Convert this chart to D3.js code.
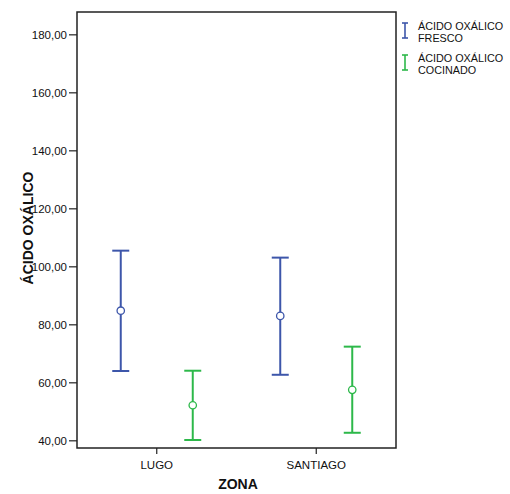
<!DOCTYPE html>
<html><head><meta charset="utf-8">
<script src="https://cdn.jsdelivr.net/npm/d3@7"></script>
<style>body{margin:0;background:#fff}svg{display:block}text{font-family:Arial,"Liberation Sans",sans-serif}</style>
</head><body>
<svg id="c" width="510" height="494"></svg>
<script>
const zones = ["LUGO", "SANTIAGO"];
const seriesNames = ["ÁCIDO OXÁLICO FRESCO", "ÁCIDO OXÁLICO COCINADO"];
const freshMean = [84.7, 82.9];
const freshLow = [63.9, 62.6];
const freshHigh = [105.4, 103.0];
const cookedMean = [52.1, 57.4];
const cookedLow = [40.1, 42.6];
const cookedHigh = [64.0, 72.3];
const yTicks = [40, 60, 80, 100, 120, 140, 160, 180];
const colors = ["#3D56AA", "#2DB84A"];

const series = [
  {name: seriesNames[0], mean: freshMean, low: freshLow, high: freshHigh, color: colors[0]},
  {name: seriesNames[1], mean: cookedMean, low: cookedLow, high: cookedHigh, color: colors[1]}
];

const svg = d3.select("#c");
const L = 77, R = 396, T = 12, B = 448;
const y = d3.scaleLinear().domain([37.35, 187.7]).range([B, T]);
const x = d3.scaleBand().domain(zones).range([L, R]).paddingInner(0).paddingOuter(0);
const off = d3.scalePoint().domain([0, 1]).range([-36, 36]);

// frame
svg.append("rect").attr("x", L).attr("y", T).attr("width", R - L).attr("height", B - T)
  .attr("fill", "none").attr("stroke", "#222").attr("stroke-width", 1.5);

// y axis
const yAxis = svg.append("g").attr("transform", `translate(${L},0)`)
  .call(d3.axisLeft(y).tickValues(yTicks).tickSize(8).tickPadding(2)
    .tickFormat(d => d3.format(".2f")(d).replace(".", ",")));
yAxis.select(".domain").remove();
yAxis.selectAll("line").attr("stroke", "#222").attr("stroke-width", 1.2);
yAxis.selectAll("text").attr("font-size", 11.5).attr("fill", "#111").attr("font-family", "Arial, 'Liberation Sans', sans-serif");

// x axis
const xAxis = svg.append("g").attr("transform", `translate(0,${B})`)
  .call(d3.axisBottom(x).tickSize(6).tickPadding(7));
xAxis.select(".domain").remove();
xAxis.selectAll("line").attr("stroke", "#222").attr("stroke-width", 1.2);
xAxis.selectAll("text").attr("font-size", 11.5).attr("fill", "#111").attr("font-family", "Arial, 'Liberation Sans', sans-serif");

// titles
svg.append("text").attr("x", 238).attr("y", 489).attr("text-anchor", "middle")
  .attr("font-size", 14).attr("font-weight", "bold").attr("fill", "#111").text("ZONA");
svg.append("text").attr("transform", "translate(33,228) rotate(-90)").attr("text-anchor", "middle")
  .attr("font-size", 14).attr("font-weight", "bold").attr("fill", "#111").text("ÁCIDO OXÁLICO");

// error bars
const capW = 8.5;
series.forEach((s, si) => {
  const g = svg.append("g");
  zones.forEach((z, i) => {
    const cx = x(z) + x.bandwidth() / 2 + off(si);
    g.append("line").attr("x1", cx).attr("x2", cx).attr("y1", y(s.low[i])).attr("y2", y(s.high[i]))
      .attr("stroke", s.color).attr("stroke-width", 2);
    [s.low[i], s.high[i]].forEach(v => {
      g.append("line").attr("x1", cx - capW).attr("x2", cx + capW).attr("y1", y(v)).attr("y2", y(v))
        .attr("stroke", s.color).attr("stroke-width", 2);
    });
    g.append("circle").attr("cx", cx).attr("cy", y(s.mean[i])).attr("r", 3.7)
      .attr("fill", "#fff").attr("stroke", s.color).attr("stroke-width", 1.3);
  });
});

// legend
series.forEach((s, si) => {
  const gy = 23 + si * 32;
  const g = svg.append("g");
  g.append("line").attr("x1", 405).attr("x2", 405).attr("y1", gy).attr("y2", gy + 15).attr("stroke", s.color).attr("stroke-width", 1.6);
  g.append("line").attr("x1", 402).attr("x2", 408).attr("y1", gy).attr("y2", gy).attr("stroke", s.color).attr("stroke-width", 1.6);
  g.append("line").attr("x1", 402).attr("x2", 408).attr("y1", gy + 15).attr("y2", gy + 15).attr("stroke", s.color).attr("stroke-width", 1.6);
  const words = s.name.split(" ");
  const lines = [words.slice(0, 2).join(" "), words.slice(2).join(" ")];
  lines.forEach((t, li) => {
    g.append("text").attr("x", 418).attr("y", gy + 7 + li * 11.5).attr("font-size", 10.8)
      .attr("fill", "#111").text(t);
  });
});
</script>
</body></html>
